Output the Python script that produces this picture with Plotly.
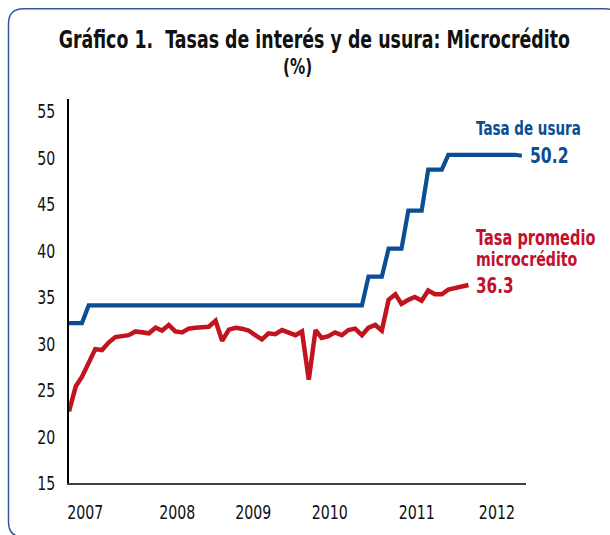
import pandas as pd
import plotly.graph_objects as go

# Monthly series, Jan 2007 onward
months = pd.date_range("2007-01-01", periods=69, freq="MS")

tasa_usura = [
    32.2, 32.2, 32.2,
    34.1, 34.1, 34.1, 34.1, 34.1, 34.1, 34.1, 34.1, 34.1, 34.1,
    34.1, 34.1, 34.1, 34.1, 34.1, 34.1, 34.1, 34.1, 34.1, 34.1,
    34.1, 34.1, 34.1, 34.1, 34.1, 34.1, 34.1, 34.1, 34.1, 34.1,
    34.1, 34.1, 34.1, 34.1, 34.1, 34.1, 34.1, 34.1, 34.1, 34.1,
    34.1, 34.1,
    37.2, 37.2, 37.2,
    40.2, 40.2, 40.2,
    44.3, 44.3, 44.3,
    48.7, 48.7, 48.7,
    50.3, 50.3, 50.3, 50.3, 50.3, 50.3, 50.3, 50.4, 50.4, 50.3, 50.3, 50.2,
]

tasa_micro = [
    22.7, 25.4, 26.4, 28.0, 29.4, 29.3, 30.1, 30.7, 30.8, 30.9,
    31.3, 31.2, 31.1, 31.7, 31.4, 32.0, 31.3, 31.2, 31.6, 31.7,
    31.8, 31.8, 32.45, 30.3, 31.5, 31.7, 31.6, 31.4, 30.9, 30.45,
    31.1, 31.0, 31.45, 31.2, 30.9, 31.3, 26.1, 31.45, 30.6, 30.8,
    31.2, 30.9, 31.45, 31.6, 30.9, 31.7, 32.0, 31.4, 34.7, 35.3,
    34.25, 34.7, 35.0, 34.6, 35.7, 35.3, 35.3, 35.8, 36.0, 36.2,
    36.3,
]

year_labels = ["2007", "2008", "2009", "2010", "2011", "2012"]
year_positions = ["2007-03-16", "2008-05-10", "2009-04-22", "2010-04-07", "2011-05-10", "2012-05-10"]
y_ticks = [15, 20, 25, 30, 35, 40, 45, 50, 55]

BLUE = "#0B4E94"
RED = "#C1141F"
RED_TXT = "#C50F2C"
FONT = "DejaVu Sans, Verdana, sans-serif"

fig = go.Figure()
fig.add_trace(go.Scatter(x=months[:len(tasa_usura)], y=tasa_usura, mode="lines",
                         line=dict(color=BLUE, width=4.2), hoverinfo="skip"))
fig.add_trace(go.Scatter(x=months[:len(tasa_micro)], y=tasa_micro, mode="lines",
                         line=dict(color=RED, width=4.5), hoverinfo="skip"))

W, H = 610, 535
L, R, T, B = 69, 84, 99, 52
pw, ph = W - L - R, H - T - B


def px(x):
    return (x - L) / pw


def py(y):
    return (H - B - y) / ph


annotations = [
    dict(text="<b>Gráfico 1.  Tasas de interés y de usura: Microcrédito</b>", x=px(314), y=py(39.5),
         font=dict(size=24.5, color="#111111")),
    dict(text="<b>(%)</b>", x=px(297), y=py(66), font=dict(size=21.5, color="#111111")),
    dict(text="<b>Tasa de usura</b>", x=px(475), y=py(128), xanchor="left", align="left",
         font=dict(size=19, color=BLUE)),
    dict(text="<b>50.2</b>", x=px(529), y=py(155), xanchor="left", align="left",
         font=dict(size=22, color=BLUE)),
    dict(text="<b>Tasa promedio</b>", x=px(475), y=py(238), xanchor="left", align="left",
         font=dict(size=20.5, color=RED_TXT)),
    dict(text="<b>microcrédito</b>", x=px(475), y=py(259), xanchor="left", align="left",
         font=dict(size=20, color=RED_TXT)),
    dict(text="<b>36.3</b>", x=px(475), y=py(285), xanchor="left", align="left",
         font=dict(size=21.5, color=RED_TXT)),
]
for a in annotations:
    a.setdefault("xanchor", "center")
    a.update(xref="paper", yref="paper", yanchor="middle", showarrow=False, borderpad=0)
    a["font"]["family"] = FONT

# rounded frame
lx, rx_, ty, by = px(8.5), px(620), py(8.7), py(537)
rdx, rdy = 15 / pw, 15 / ph
path = (f"M {lx+rdx},{ty} L {rx_-rdx},{ty} Q {rx_},{ty} {rx_},{ty-rdy} "
        f"L {rx_},{by+rdy} Q {rx_},{by} {rx_-rdx},{by} "
        f"L {lx+rdx},{by} Q {lx},{by} {lx},{by+rdy} "
        f"L {lx},{ty-rdy} Q {lx},{ty} {lx+rdx},{ty} Z")

fig.update_layout(
    width=W, height=H, autosize=False,
    margin=dict(l=L, r=R, t=T, b=B, pad=0, autoexpand=False),
    paper_bgcolor="white", plot_bgcolor="white",
    showlegend=False,
    annotations=annotations,
    shapes=[dict(type="path", path=path, xref="paper", yref="paper",
                 line=dict(color="#2F5A9A", width=1.5), layer="below")],
    font=dict(family=FONT, color="#111111"),
    xaxis=dict(
        range=["2007-01-01", "2012-09-20"],
        tickvals=year_positions, ticktext=year_labels,
        showgrid=False, zeroline=False, automargin=False,
        showline=True, linecolor="#404040", linewidth=1.8,
        ticks="", ticklabelstandoff=10,
        tickfont=dict(size=20, family=FONT, color="#111111"),
    ),
    yaxis=dict(
        range=[15, 56.3],
        tickvals=y_ticks,
        showgrid=False, zeroline=False, automargin=False,
        showline=True, linecolor="#000000", linewidth=1.5,
        ticks="", ticklabelstandoff=8,
        tickfont=dict(size=20, family=FONT, color="#111111"),
    ),
)

# The reference typeface is a horizontally condensed Verdana-like face;
# reproduce it by condensing the real SVG text around its anchor.
post_js = """
document.body.style.margin = '0px';
document.body.style.overflow = 'hidden';
var gd = document.getElementById('{plot_id}');
gd.querySelectorAll('text').forEach(function (t) {
  if (!t.textContent) { return; }
  var bb = t.getBBox();
  var anchor = t.getAttribute('text-anchor') || 'start';
  var ox = anchor === 'middle' ? bb.x + bb.width / 2 : (anchor === 'end' ? bb.x + bb.width : bb.x);
  var prev = t.getAttribute('transform') || '';
  t.setAttribute('transform', prev + ' translate(' + ox + ',0) scale(0.71,1) translate(' + (-ox) + ',0)');
});
"""

fig.write_html("out.html", post_script=post_js,
               config={"displayModeBar": False, "responsive": False})
